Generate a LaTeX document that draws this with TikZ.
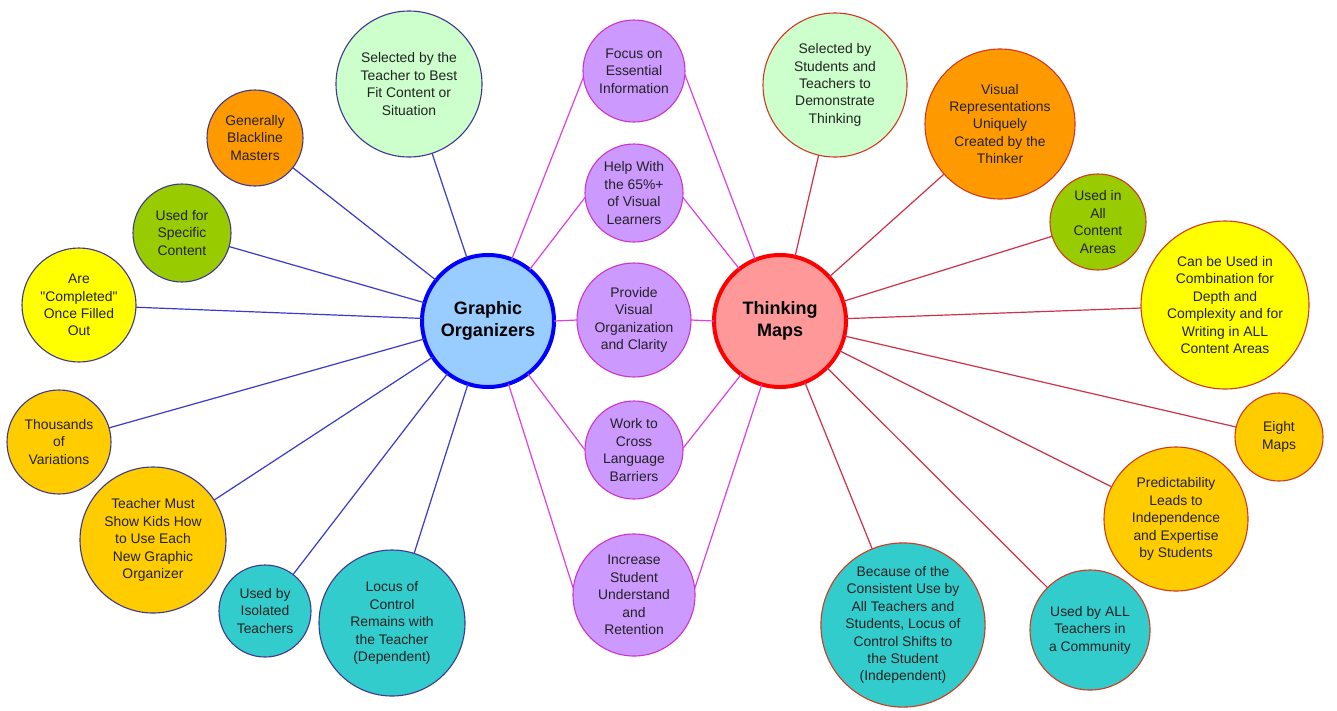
\documentclass[tikz,border=0pt]{standalone}
\usepackage{fontspec}
\setmainfont{Liberation Sans}
\definecolor{lgreen}{HTML}{CCFFCC}
\definecolor{orng}{HTML}{FF9900}
\definecolor{grn}{HTML}{99CC00}
\definecolor{yel}{HTML}{FFFF00}
\definecolor{gold}{HTML}{FFCC00}
\definecolor{teal2}{HTML}{33CCCC}
\definecolor{purp}{HTML}{CC99FF}
\definecolor{gofill}{HTML}{99CCFF}
\definecolor{tmfill}{HTML}{FF9999}
\definecolor{goedge}{HTML}{0000FF}
\definecolor{tmedge}{HTML}{FF0000}
\definecolor{ledge}{HTML}{403890}
\definecolor{redge}{HTML}{D03A20}
\definecolor{pedge}{HTML}{CC33CC}
\definecolor{lline}{HTML}{3A3ACC}
\definecolor{rline}{HTML}{D0304A}
\definecolor{pline}{HTML}{E040E0}
\definecolor{txt}{HTML}{222222}
\tikzset{
  bub/.style={circle, inner sep=0pt, outer sep=0pt, align=center, text=txt,
    line width=1.1pt, minimum size=#1,
    font=\fontsize{13.9}{17.4}\selectfont},
  lbub/.style={bub=#1, draw=ledge},
  rbub/.style={bub=#1, draw=redge},
  pbub/.style={bub=#1, draw=pedge, fill=purp},
  hub/.style={circle, inner sep=0pt, outer sep=0pt, align=center, text=black,
    line width=4pt, minimum size=132pt,
    font=\fontsize{18}{22.5}\selectfont\bfseries},
  lcon/.style={draw=lline, line width=1.2pt},
  rcon/.style={draw=rline, line width=1.2pt},
  pcon/.style={draw=pline, line width=1.2pt},
}
\begin{document}
\begin{tikzpicture}[x=1pt,y=-1pt]
\useasboundingbox[fill=white] (0,0) rectangle (1337,710);
% hubs
\node[hub, draw=goedge, fill=gofill] (go) at (488,321) {Graphic\\Organizers};
\node[hub, draw=tmedge, fill=tmfill] (tm) at (780,321) {Thinking\\Maps};
% left
\node[lbub=146pt, fill=lgreen] (l1) at (409,84) {Selected by the\\Teacher to Best\\Fit Content or\\Situation};
\node[lbub=96pt, fill=orng] (l2) at (255,138) {Generally\\Blackline\\Masters};
\node[lbub=98pt, fill=grn] (l3) at (182,233) {Used for\\Specific\\Content};
\node[lbub=114pt, fill=yel] (l4) at (79,305) {Are\\\textquotedbl Completed\textquotedbl\\Once Filled\\Out};
\node[lbub=104pt, fill=gold] (l5) at (59,442) {Thousands\\of\\Variations};
\node[lbub=146pt, fill=gold] (l6) at (153,540) {Teacher Must\\Show Kids How\\to Use Each\\New Graphic\\Organizer};
\node[lbub=92pt, fill=teal2] (l7) at (265,611) {Used by\\Isolated\\Teachers};
\node[lbub=146pt, fill=teal2] (l8) at (392,623) {Locus of\\Control\\Remains with\\the Teacher\\(Dependent)};
% middle
\node[pbub=102pt] (m1) at (634,71) {Focus on\\Essential\\Information};
\node[pbub=98pt] (m2) at (634,193) {Help With\\the 65\%+\\of Visual\\Learners};
\node[pbub=114pt] (m3) at (634,320) {Provide\\Visual\\Organization\\and Clarity};
\node[pbub=98pt] (m4) at (634,450) {Work to\\Cross\\Language\\Barriers};
\node[pbub=122pt] (m5) at (634,595) {Increase\\Student\\Understand\\and\\Retention};
% right
\node[rbub=144pt, fill=lgreen] (r1) at (835,85) {Selected by\\Students and\\Teachers to\\Demonstrate\\Thinking};
\node[rbub=150pt, fill=orng] (r2) at (1000,124) {Visual\\Representations\\Uniquely\\Created by the\\Thinker};
\node[rbub=96pt, fill=grn] (r3) at (1098,222) {Used in\\All\\Content\\Areas};
\node[rbub=168pt, fill=yel] (r4) at (1225,305) {Can be Used in\\Combination for\\Depth and\\Complexity and for\\Writing in ALL\\Content Areas};
\node[rbub=88pt, fill=gold] (r5) at (1279,437) {Eight\\Maps};
\node[rbub=144pt, fill=gold] (r6) at (1176,519) {Predictability\\Leads to\\Independence\\and Expertise\\by Students};
\node[rbub=120pt, fill=teal2] (r7) at (1090,630) {Used by ALL\\Teachers in\\a Community};
\node[rbub=164pt, fill=teal2] (r8) at (903,625) {Because of the\\Consistent Use by\\All Teachers and\\Students, Locus of\\Control Shifts to\\the Student\\(Independent)};
% connectors
\foreach \n in {l1,l2,l3,l4,l5,l6,l7,l8} {\path[lcon] (go) -- (\n);}
\foreach \n in {r1,r2,r3,r4,r5,r6,r7,r8} {\path[rcon] (tm) -- (\n);}
\path[pcon] (go.69) -- (m1.187);
\path[pcon] (go.51) -- (m2.185);
\path[pcon] (go.east) -- (m3.west);
\path[pcon] (go.-53) -- (m4.west);
\path[pcon] (go.-72) -- (m5.174);
\path[pcon] (tm.112) -- (m1.-4);
\path[pcon] (tm.128) -- (m2.-5);
\path[pcon] (tm.west) -- (m3.east);
\path[pcon] (tm.234) -- (m4.2);
\path[pcon] (tm.254) -- (m5.6);
\end{tikzpicture}
\end{document}
